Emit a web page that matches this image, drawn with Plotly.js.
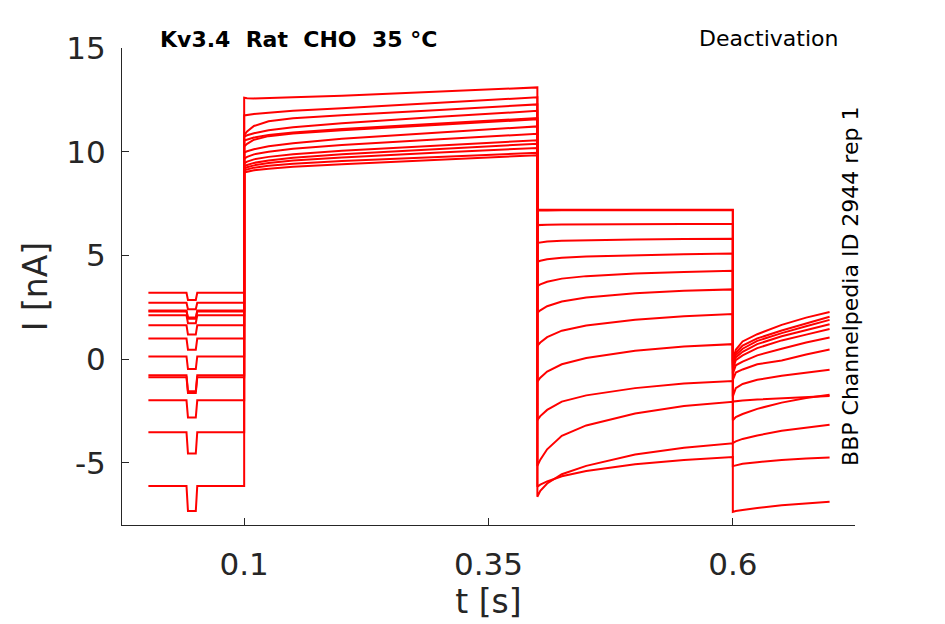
<!DOCTYPE html>
<html>
<head>
<meta charset="utf-8">
<script src="https://cdn.plot.ly/plotly-3.0.1.min.js"></script>
<style>
  html, body { margin: 0; padding: 0; background: #fff; }
  #chart { width: 945px; height: 624px; }
</style>
</head>
<body>
<div id="chart"></div>
<script>
// sample times for each part of the protocol (s)
const tHold = [0.002, 0.041, 0.0425, 0.0505, 0.052, 0.1];
const tAct = [0.1, 0.103, 0.11, 0.125, 0.15, 0.2, 0.3, 0.4];
const tDeact = [0.4, 0.403, 0.41, 0.425, 0.45, 0.5, 0.55, 0.6];
const tTail = [0.6, 0.603, 0.61, 0.625, 0.65, 0.675, 0.699];

// holding current and bottom of the short test dip (nA), one per sweep
const holdLevel = [3.20, 2.72, 2.34, 2.30, 2.11, 1.63, 0.99, 0.13, -0.78, -0.88, -1.99, -3.53, -6.12];
const holdDip = [2.85, 2.40, 2.00, 1.95, 1.73, 1.18, 0.45, -0.48, -1.55, -1.63, -2.82, -4.55, -7.33];

// activation step, values at tAct
const actVals = [
  [12.6, 12.58, 12.57, 12.58, 12.62, 12.7, 12.9, 13.1],
  [11.75, 11.77, 11.82, 11.88, 11.97, 12.1, 12.37, 12.62],
  [10.8, 10.98, 11.24, 11.47, 11.61, 11.76, 12.01, 12.28],
  [10.73, 10.79, 10.89, 11.03, 11.18, 11.37, 11.68, 11.97],
  [10.54, 10.59, 10.68, 10.8, 10.93, 11.1, 11.37, 11.62],
  [10.25, 10.38, 10.58, 10.75, 10.88, 11.04, 11.3, 11.56],
  [9.96, 10.02, 10.12, 10.26, 10.41, 10.62, 10.93, 11.22],
  [9.67, 9.75, 9.87, 10.0, 10.14, 10.32, 10.6, 10.86],
  [9.44, 9.52, 9.63, 9.75, 9.88, 10.05, 10.3, 10.55],
  [9.29, 9.36, 9.46, 9.58, 9.71, 9.88, 10.13, 10.38],
  [9.19, 9.25, 9.34, 9.45, 9.57, 9.72, 9.96, 10.18],
  [9.1, 9.15, 9.23, 9.32, 9.42, 9.55, 9.75, 9.95],
  [9.0, 9.04, 9.1, 9.18, 9.27, 9.4, 9.62, 9.83]
];

// deactivation step, values at tDeact
const deactVals = [
  [7.2, 7.2, 7.2, 7.2, 7.2, 7.2, 7.2, 7.2],
  [7.16, 7.17, 7.17, 7.18, 7.18, 7.18, 7.19, 7.19],
  [6.46, 6.47, 6.48, 6.49, 6.5, 6.5, 6.51, 6.51],
  [5.6, 5.63, 5.67, 5.71, 5.74, 5.77, 5.79, 5.8],
  [4.69, 4.74, 4.81, 4.89, 4.95, 5.02, 5.06, 5.09],
  [3.52, 3.6, 3.73, 3.88, 4.0, 4.13, 4.2, 4.26],
  [2.23, 2.35, 2.55, 2.78, 2.97, 3.18, 3.29, 3.36],
  [0.64, 0.8, 1.06, 1.37, 1.62, 1.9, 2.07, 2.17],
  [-1.09, -0.9, -0.6, -0.25, 0.05, 0.4, 0.61, 0.72],
  [-2.94, -2.75, -2.45, -2.05, -1.75, -1.4, -1.18, -1.06],
  [-5.15, -4.85, -4.35, -3.7, -3.2, -2.62, -2.26, -2.06],
  [-6.64, -6.35, -6.0, -5.55, -5.15, -4.6, -4.27, -4.06],
  [-6.15, -6.05, -5.9, -5.65, -5.4, -5.07, -4.86, -4.72]
];

// tail step, values at tTail
const tailVals = [
  [-0.1, 0.45, 0.85, 1.2, 1.65, 2.0, 2.27],
  [-0.2, 0.3, 0.65, 1.0, 1.38, 1.72, 2.04],
  [-0.3, 0.2, 0.5, 0.88, 1.25, 1.58, 1.89],
  [-0.4, 0.08, 0.35, 0.72, 1.1, 1.4, 1.68],
  [-0.5, -0.05, 0.18, 0.53, 0.9, 1.18, 1.45],
  [-0.7, -0.3, -0.12, 0.18, 0.5, 0.8, 1.04],
  [-1.0, -0.65, -0.5, -0.25, -0.07, 0.22, 0.46],
  [-1.8, -1.4, -1.2, -1.0, -0.8, -0.65, -0.51],
  [-2.05, -2.03, -2.0, -1.95, -1.9, -1.83, -1.78],
  [-2.95, -2.8, -2.65, -2.4, -2.1, -1.88, -1.72],
  [-4.05, -3.97, -3.85, -3.68, -3.46, -3.3, -3.17],
  [-5.16, -5.12, -5.05, -4.97, -4.86, -4.79, -4.74],
  [-7.37, -7.33, -7.28, -7.18, -7.05, -6.95, -6.88]
];

const xTicks = [0.1, 0.35, 0.6];
const xTickText = ['0.1', '0.35', '0.6'];
const yTicks = [-5, 0, 5, 10, 15];
const yTickText = ['-5', '0', '5', '10', '15'];

const axisGray = '#262626';
const sweepX = tHold.concat(tAct, tDeact, tTail);

let data = [];
for (let i = 0; i < holdLevel.length; i++) {
    let L = holdLevel[i], D = holdDip[i];
    let y = [L, L, D, D, L, L].concat(actVals[i], deactVals[i], tailVals[i]);
    data.push({
        x: sweepX,
        y: y,
        type: 'scatter',
        mode: 'lines',
        line: {color: '#ff0000', width: 2},
        hoverinfo: 'skip',
        showlegend: false
    });
}

const layout = {
    width: 945,
    height: 624,
    margin: {l: 122, r: 90, t: 48, b: 99},
    paper_bgcolor: '#ffffff',
    plot_bgcolor: '#ffffff',
    showlegend: false,
    font: {family: 'DejaVu Sans', color: axisGray},
    xaxis: {
        range: [-0.025, 0.725],
        tickvals: xTicks,
        ticktext: xTickText,
        ticks: 'inside',
        ticklen: 7,
        tickcolor: axisGray,
        tickfont: {family: 'DejaVu Sans', size: 31, color: axisGray},
        ticklabelstandoff: 12,
        showline: true,
        linecolor: axisGray,
        linewidth: 1,
        showgrid: false,
        zeroline: false,
        automargin: false,
        title: {text: 't [s]', font: {family: 'DejaVu Sans', size: 33, color: axisGray}, standoff: 6}
    },
    yaxis: {
        range: [-8, 15],
        tickvals: yTicks,
        ticktext: yTickText,
        ticks: 'inside',
        ticklen: 7,
        tickcolor: axisGray,
        tickfont: {family: 'DejaVu Sans', size: 31, color: axisGray},
        ticklabelstandoff: 9,
        showline: true,
        linecolor: axisGray,
        linewidth: 1,
        showgrid: false,
        zeroline: false,
        automargin: false,
        title: {text: 'I [nA]', font: {family: 'DejaVu Sans', size: 33, color: axisGray}, standoff: 8}
    },
    annotations: [
        {
            text: '<b>Kv3.4\u00a0\u00a0Rat\u00a0\u00a0CHO\u00a0\u00a035\u00a0°C</b>',
            xref: 'paper', yref: 'paper', x: 0.0488, y: 1.017,
            xanchor: 'left', yanchor: 'middle', showarrow: false,
            font: {family: 'DejaVu Sans', size: 22, color: '#000000'}
        },
        {
            text: 'Deactivation',
            xref: 'paper', yref: 'paper', x: 0.98, y: 1.019,
            xanchor: 'right', yanchor: 'middle', showarrow: false,
            font: {family: 'DejaVu Sans', size: 22, color: '#000000'}
        },
        {
            text: 'BBP Channelpedia ID 2944 rep 1',
            xref: 'paper', yref: 'paper', x: 0.993, y: 0.501,
            xanchor: 'center', yanchor: 'middle', textangle: -90, showarrow: false,
            font: {family: 'DejaVu Sans', size: 22, color: '#000000'}
        }
    ]
};

Plotly.newPlot('chart', data, layout, {displayModeBar: false, staticPlot: true});
</script>
</body>
</html>
